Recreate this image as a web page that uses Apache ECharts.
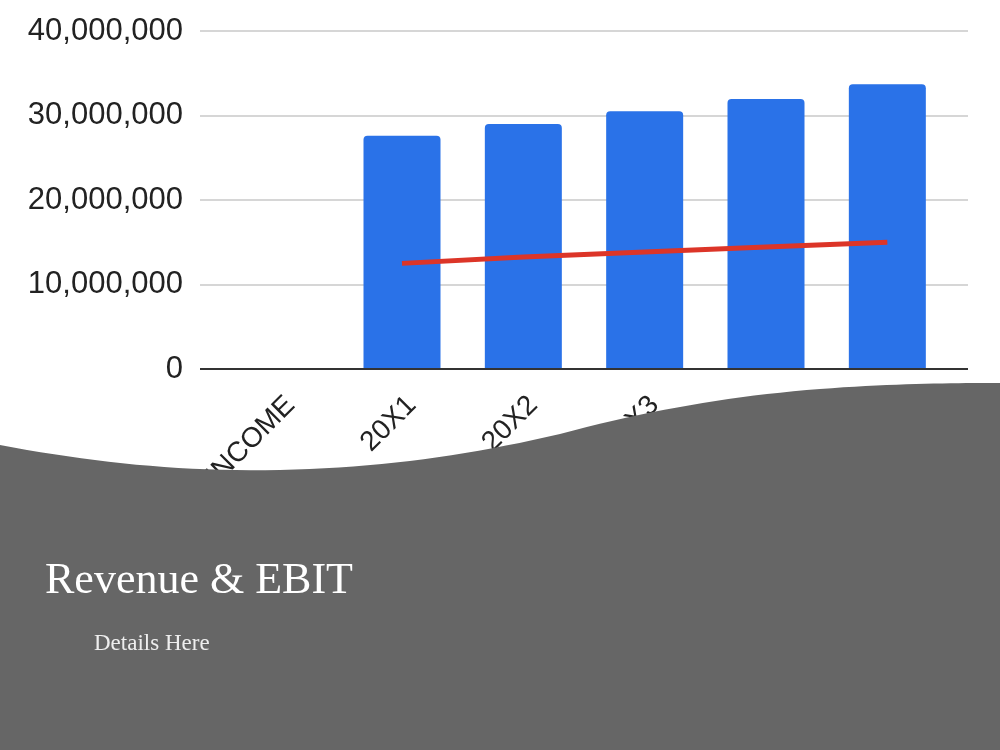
<!DOCTYPE html>
<html>
<head>
<meta charset="utf-8">
<script src="https://cdn.jsdelivr.net/npm/echarts@6/dist/echarts.min.js"></script>
<style>
	html, body { margin: 0; padding: 0; background: #fff; }
	#chart { width: 1000px; height: 750px; }
</style>
</head>
<body>
<div id="chart"></div>
<script>
var categories = ["INCOME", "20X1", "20X2", "20X3", "20X4", "20X5"];
var revenue = [null, 27600000, 29000000, 30500000, 31950000, 33700000];
var ebit = [null, 12500000, 13250000, 13850000, 14450000, 15000000];
var yTicks = [0, 10000000, 20000000, 30000000, 40000000];

var chart = echarts.init(document.getElementById("chart"));

// grey wave that covers the bottom of the slide (cubic segments, sampled)
var waveCurves = [
	[[0, 445], [90, 462], [180, 472], [280, 470]],
	[[280, 470], [380, 468], [470, 455], [560, 434]],
	[[560, 434], [650, 410], [730, 396], [820, 389]],
	[[820, 389], [900, 383], [960, 383], [1000, 383]]
];
function wavePoints() {
	var pts = [];
	waveCurves.forEach(function (c) {
		for (var i = 0; i <= 20; i++) {
			var t = i / 20, u = 1 - t;
			pts.push([
				u*u*u*c[0][0] + 3*u*u*t*c[1][0] + 3*u*t*t*c[2][0] + t*t*t*c[3][0],
				u*u*u*c[0][1] + 3*u*u*t*c[1][1] + 3*u*t*t*c[2][1] + t*t*t*c[3][1]
			]);
		}
	});
	pts.push([1000, 750], [0, 750]);
	return pts;
}

chart.setOption({
	backgroundColor: "#ffffff",
	animation: false,
	grid: [
		// grid for the marks
		{ left: 220, right: 52, top: 31, bottom: 381, containLabel: false },
		// wider grid for gridlines and y labels
		{ left: 200, right: 32, top: 31, bottom: 381, containLabel: false }
	],
	xAxis: [
		{
			type: "category",
			gridIndex: 0,
			data: categories,
			axisLine: { show: false },
			axisTick: { show: false },
			axisLabel: {
				rotate: 45,
				interval: 0,
				margin: 22,
				verticalAlign: "top",
				fontFamily: "Liberation Sans, Arial, sans-serif",
				fontSize: 28,
				color: "#222"
			}
		},
		{
			type: "value",
			gridIndex: 1,
			min: 0,
			max: 1,
			axisLine: { show: false },
			axisTick: { show: false },
			axisLabel: { show: false },
			splitLine: { show: false }
		}
	],
	yAxis: [
		{
			type: "value",
			gridIndex: 0,
			min: yTicks[0],
			max: yTicks[yTicks.length - 1],
			interval: 10000000,
			axisLine: { show: false },
			axisTick: { show: false },
			axisLabel: { show: false },
			splitLine: { show: false }
		},
		{
			type: "value",
			gridIndex: 1,
			min: yTicks[0],
			max: yTicks[yTicks.length - 1],
			interval: 10000000,
			axisLine: { show: false },
			axisTick: { show: false },
			axisLabel: {
				margin: 17,
				fontFamily: "Liberation Sans, Arial, sans-serif",
				fontSize: 31,
				color: "#222",
				formatter: function (v) { return v.toLocaleString("en-US"); }
			},
			splitLine: { lineStyle: { color: "#d6d6d6", width: 2 } }
		}
	],
	series: [
		{
			name: "Revenue",
			type: "bar",
			xAxisIndex: 0,
			yAxisIndex: 0,
			data: revenue,
			barWidth: 77,
			itemStyle: { color: "#2a72e8", borderRadius: [4, 4, 0, 0] },
			z: 2
		},
		{
			name: "EBIT",
			type: "line",
			xAxisIndex: 0,
			yAxisIndex: 0,
			data: ebit,
			symbol: "none",
			lineStyle: { color: "#dc3528", width: 5 },
			z: 3
		},
		{
			// baseline of the chart
			type: "line",
			xAxisIndex: 1,
			yAxisIndex: 1,
			data: [[0, 0], [1, 0]],
			symbol: "none",
			lineStyle: { color: "#333", width: 2 },
			silent: true,
			z: 4
		}
	],
	graphic: [
		{
			type: "polygon",
			shape: { points: wavePoints() },
			style: { fill: "#666666" },
			z: 100
		},
		{
			type: "text",
			left: 45,
			top: 559,
			style: {
				text: "Revenue & EBIT",
				fill: "#ffffff",
				font: "44px 'Liberation Serif', 'DejaVu Serif', serif"
			},
			z: 101
		},
		{
			type: "text",
			left: 94,
			top: 632,
			style: {
				text: "Details Here",
				fill: "#eeeeee",
				font: "23px 'Liberation Serif', 'DejaVu Serif', serif"
			},
			z: 101
		}
	]
});
</script>
</body>
</html>
